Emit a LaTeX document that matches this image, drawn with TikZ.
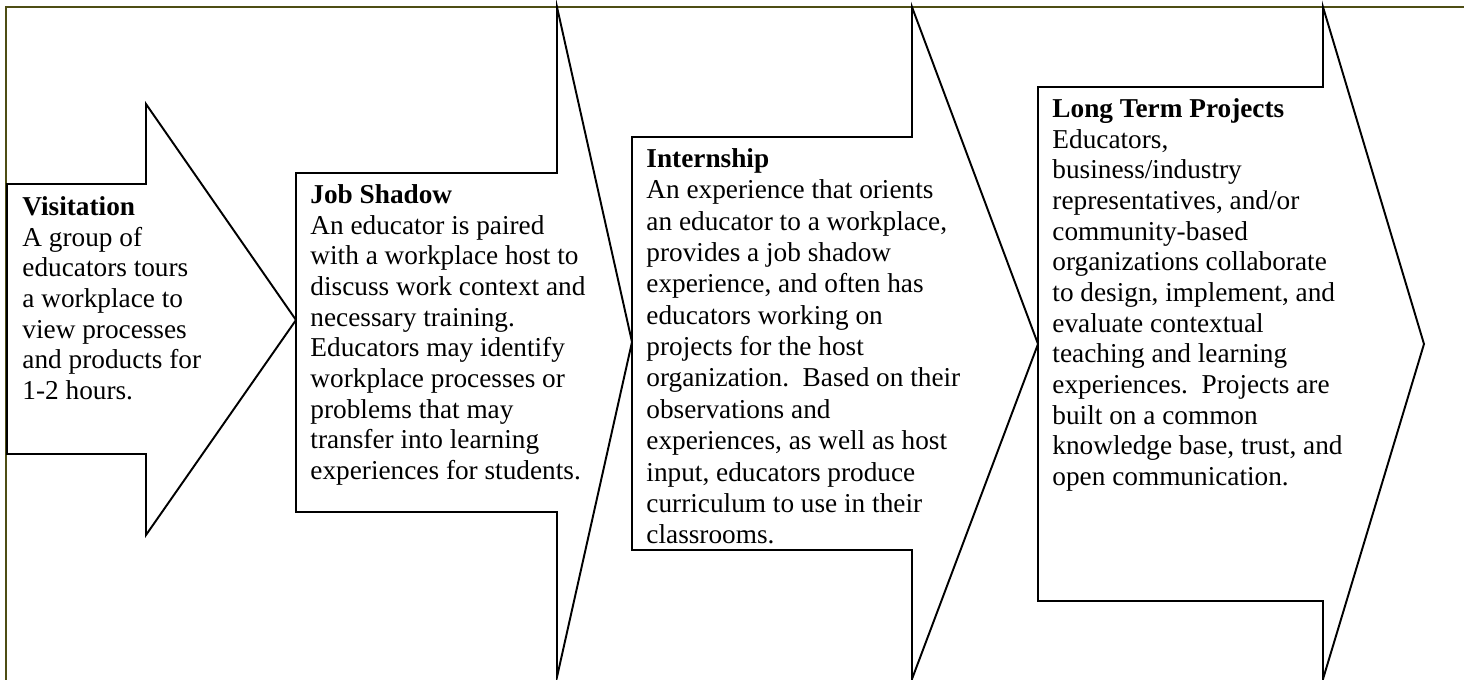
\documentclass[tikz,border=0pt]{standalone}
\usepackage{fontspec}
\setmainfont{Liberation Serif}
\usepackage{tikz}
\usetikzlibrary{positioning}
\definecolor{cornice}{RGB}{77,77,20}
\tikzset{
    stage/.style={
        draw=black,
        fill=white,
        line width=0.85pt,
        line join=miter
    },
    stage text/.style={
        anchor=north west,
        align=left,
        inner sep=0pt,
        font=\fontsize{12}{13.5}\selectfont
    }
}

\begin{document}
\begin{tikzpicture}[x=0.44pt, y=-0.44pt]
        \useasboundingbox (0,0) rectangle (1464,679);
        \clip (0,0) rectangle (1464,679);

        % Cornice
        \draw[cornice, line width=1.1pt] (6,700) -- (6,7) -- (1480,7);

        % Frecce: corpo (x sinistra, x base punta, alto, basso), punta (x, alto, basso, y)
        \foreach \xa/\xb/\yt/\yb/\xc/\ht/\hb/\yc in {
            7/146/184/454/296/104/535/320,
            296/557/173/512/632/7/677/342,
            632/912/137/550/1038/7/679/344,
            1038/1323/87/601/1424/7/679/344}
        {
            \draw[stage] (\xa,\yt) -- (\xb,\yt) -- (\xb,\ht) -- (\xc,\yc)
                -- (\xb,\hb) -- (\xb,\yb) -- (\xa,\yb) -- cycle;
        }

        % Testi
        \node[stage text] (visitation) at (22,196) {\textbf{Visitation}\\
            A group of\\
            educators tours\\
            a workplace to\\
            view processes\\
            and products for\\
            1-2 hours.};
        \node[stage text] (jobshadow) at (310,184) {\textbf{Job Shadow}\\
            An educator is paired\\
            with a workplace host to\\
            discuss work context and\\
            necessary training.\\
            Educators may identify\\
            workplace processes or\\
            problems that may\\
            transfer into learning\\
            experiences for students.};
        \node[stage text, font=\fontsize{12}{13.8}\selectfont] (internship) at (646,148) {\textbf{Internship}\\
            An experience that orients\\
            an educator to a workplace,\\
            provides a job shadow\\
            experience, and often has\\
            educators working on\\
            projects for the host\\
            organization.\ \ Based on their\\
            observations and\\
            experiences, as well as host\\
            input, educators produce\\
            curriculum to use in their\\
            classrooms.};
        \node[stage text] (longterm) at (1052,98) {\textbf{Long Term Projects}\\
            Educators,\\
            business/industry\\
            representatives, and/or\\
            community-based\\
            organizations collaborate\\
            to design, implement, and\\
            evaluate contextual\\
            teaching and learning\\
            experiences.\ \ Projects are\\
            built on a common\\
            knowledge base, trust, and\\
            open communication.};
\end{tikzpicture}
\end{document}
